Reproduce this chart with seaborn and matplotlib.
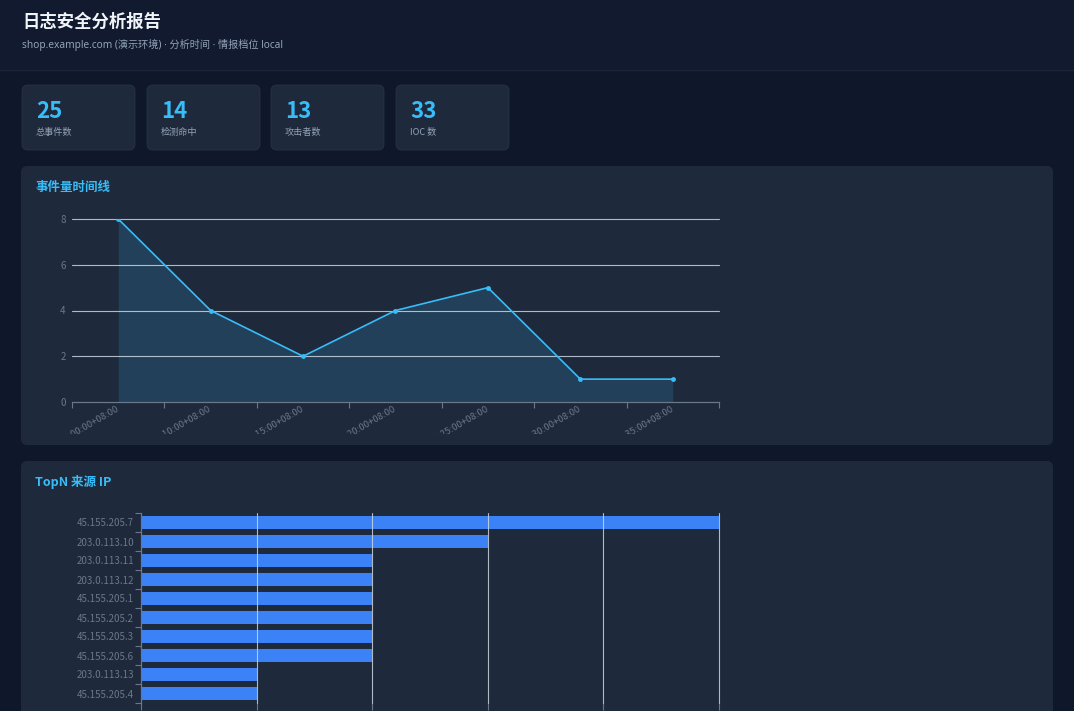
import numpy as np
import pandas as pd
import matplotlib
matplotlib.use("Agg")
import matplotlib.pyplot as plt
import seaborn as sns
from matplotlib.patches import FancyBboxPatch, Rectangle
from matplotlib.transforms import Bbox

# ---------------- data ----------------
report_title = "日志安全分析报告"
report_subtitle = "shop.example.com (演示环境) · 分析时间 · 情报档位 local"

card_values = [25, 14, 13, 33]
card_labels = ["总事件数", "检测命中", "攻击者数", "IOC 数"]

timeline_title = "事件量时间线"
timeline_labels = [
    "2025-01-01T10:00:00+08:00",
    "2025-01-01T10:10:00+08:00",
    "2025-01-01T10:15:00+08:00",
    "2025-01-01T10:20:00+08:00",
    "2025-01-01T10:25:00+08:00",
    "2025-01-01T10:30:00+08:00",
    "2025-01-01T10:35:00+08:00",
]
timeline_counts = [8, 4, 2, 4, 5, 1, 1]
timeline_yticks = [0, 2, 4, 6, 8]

ip_title = "TopN 来源 IP"
ip_labels = [
    "45.155.205.7", "203.0.113.10", "203.0.113.11", "203.0.113.12",
    "45.155.205.1", "45.155.205.2", "45.155.205.3", "45.155.205.6",
    "203.0.113.13", "45.155.205.4",
]
ip_counts = [5, 3, 2, 2, 2, 2, 2, 2, 1, 1]
ip_xticks = [0, 1, 2, 3, 4, 5]

# ---------------- style ----------------
W, H = 1074, 711
BODY = "#0f172a"
HEADER = "#111a2e"
PANEL = "#1e293b"
ACCENT = "#38bdf8"
BAR = "#3b82f6"
MUTED = "#94a3b8"
TICK = "#6b778a"
GRID = "#cbd5e1"

sns.set_theme(style="dark")
plt.rcParams["font.family"] = ["Noto Sans CJK SC", "DejaVu Sans"]
plt.rcParams["axes.unicode_minus"] = False

fig = plt.figure(figsize=(W / 100, H / 100), dpi=100)
fig.patch.set_facecolor(BODY)

def px_axes(x0, y0, x1, y1, z=2):
    return fig.add_axes([x0 / W, 1 - y1 / H, (x1 - x0) / W, (y1 - y0) / H], zorder=z)

# background layer in pixel coordinates
bg = fig.add_axes([0, 0, 1, 1], zorder=0)
bg.set_xlim(0, W)
bg.set_ylim(H, 0)
bg.axis("off")
bg.add_patch(Rectangle((0, 0), W, 69, fc=HEADER, ec="none"))
bg.plot([0, W], [69.5, 69.5], color="#1c2639", lw=1)
bg.text(22, 22, report_title, fontsize=12.5, fontweight="bold", color="#f1f5f9", va="center")
bg.text(22, 45, report_subtitle, fontsize=7.3, color=MUTED, va="center",
        family=["Noto Sans", "Noto Sans CJK SC"])

card_x = [22, 147, 271, 396]
for cx, v, lab in zip(card_x, card_values, card_labels):
    bg.add_patch(FancyBboxPatch((cx, 85), 113, 65, boxstyle="round,pad=0,rounding_size=6",
                                fc=PANEL, ec="#26334a", lw=0.6))
    bg.text(cx + 14, 111, str(v), fontsize=16, fontweight="bold", color=ACCENT, va="center")
    bg.text(cx + 14, 132, lab, fontsize=6.6, color=MUTED, va="center")

bg.add_patch(FancyBboxPatch((21, 166), 1032, 279, boxstyle="round,pad=0,rounding_size=6",
                            fc=PANEL, ec="none"))
bg.add_patch(FancyBboxPatch((21, 461), 1032, 300, boxstyle="round,pad=0,rounding_size=6",
                            fc=PANEL, ec="none"))
bg.text(35, 187, timeline_title, fontsize=9, fontweight="bold", color=ACCENT, va="center")
bg.text(35, 482, ip_title, fontsize=9, fontweight="bold", color=ACCENT, va="center")

# ---------------- timeline ----------------
ax1 = px_axes(72, 219, 719, 402)
ax1.set_facecolor("none")
tl = pd.DataFrame({"idx": np.arange(len(timeline_counts)), "count": timeline_counts})
ax1.fill_between(tl["idx"], tl["count"], 0, color=ACCENT, alpha=0.16, lw=0, zorder=1)
sns.lineplot(data=tl, x="idx", y="count", ax=ax1, color=ACCENT, lw=1.2, marker="o",
             markersize=3.5, markeredgewidth=0, zorder=3)
ax1.set_xlim(-0.5, len(timeline_counts) - 0.5)
ax1.set_ylim(0, 8)
ax1.set_yticks(timeline_yticks)
ax1.set_yticklabels([str(t) for t in timeline_yticks])
for t in timeline_yticks[1:]:
    ax1.axhline(t, color=GRID, lw=0.8, alpha=0.85, zorder=2, clip_on=False)
ax1.set_xticks(np.arange(-0.5, len(timeline_counts)), minor=False)
ax1.set_xticklabels([])
ax1.set_xticks(tl["idx"], minor=True)
ax1.set_xticklabels(timeline_labels, minor=True, rotation=30, ha="right", va="center",
                    rotation_mode="anchor", fontsize=6.8, color=TICK)
ax1.tick_params(axis="x", which="major", length=4, color=TICK, width=0.8, direction="out", bottom=True)
ax1.tick_params(axis="x", which="minor", length=0, pad=4.5, bottom=True)
ax1.tick_params(axis="y", length=0, pad=4.5, labelsize=7, labelcolor=TICK, left=True)
ax1.grid(False)
for s in ["top", "right", "left"]:
    ax1.spines[s].set_visible(False)
ax1.spines["bottom"].set_color(TICK)
ax1.spines["bottom"].set_linewidth(0.9)
ax1.set_xlabel("")
ax1.set_ylabel("")
# chart canvas ends just below the axis: rotated labels are cut there
canvas_clip = Bbox([[0, H - 433.5], [W, H]])
for lbl in ax1.get_xticklabels(minor=True):
    lbl.set_clip_box(canvas_clip)
    lbl.set_clip_on(True)

# ---------------- top IPs ----------------
ax2 = px_axes(141, 513, 719, 703)
ax2.set_facecolor("none")
ipdf = pd.DataFrame({"ip": ip_labels, "count": ip_counts})
sns.barplot(data=ipdf, y="ip", x="count", ax=ax2, color=BAR, saturation=1, width=0.68,
            orient="h", linewidth=0, edgecolor="none", zorder=2)
ax2.set_xlim(0, 5)
ax2.set_ylim(len(ip_labels) - 0.5, -0.5)
ax2.set_xticks(ip_xticks)
ax2.set_xticklabels([str(t) for t in ip_xticks])
for t in ip_xticks[1:]:
    ax2.axvline(t, color=GRID, lw=0.8, alpha=0.85, zorder=3, clip_on=False)
ax2.set_yticks(np.arange(-0.5, len(ip_labels)), minor=False)
ax2.set_yticklabels([])
ax2.set_yticks(np.arange(len(ip_labels)), minor=True)
ax2.set_yticklabels(ip_labels, minor=True, fontsize=7, color=TICK)
ax2.tick_params(axis="y", which="major", length=4, color=TICK, width=0.8, left=True)
ax2.tick_params(axis="y", which="minor", length=0, pad=5, left=True)
ax2.tick_params(axis="x", length=5, color=TICK, width=0.8, bottom=True, labelbottom=False)
ax2.grid(False)
for s in ["top", "right", "bottom"]:
    ax2.spines[s].set_visible(False)
ax2.spines["left"].set_color(TICK)
ax2.spines["left"].set_linewidth(0.9)
ax2.set_xlabel("")
ax2.set_ylabel("")

fig.savefig("out.png", dpi=100, facecolor=BODY)
